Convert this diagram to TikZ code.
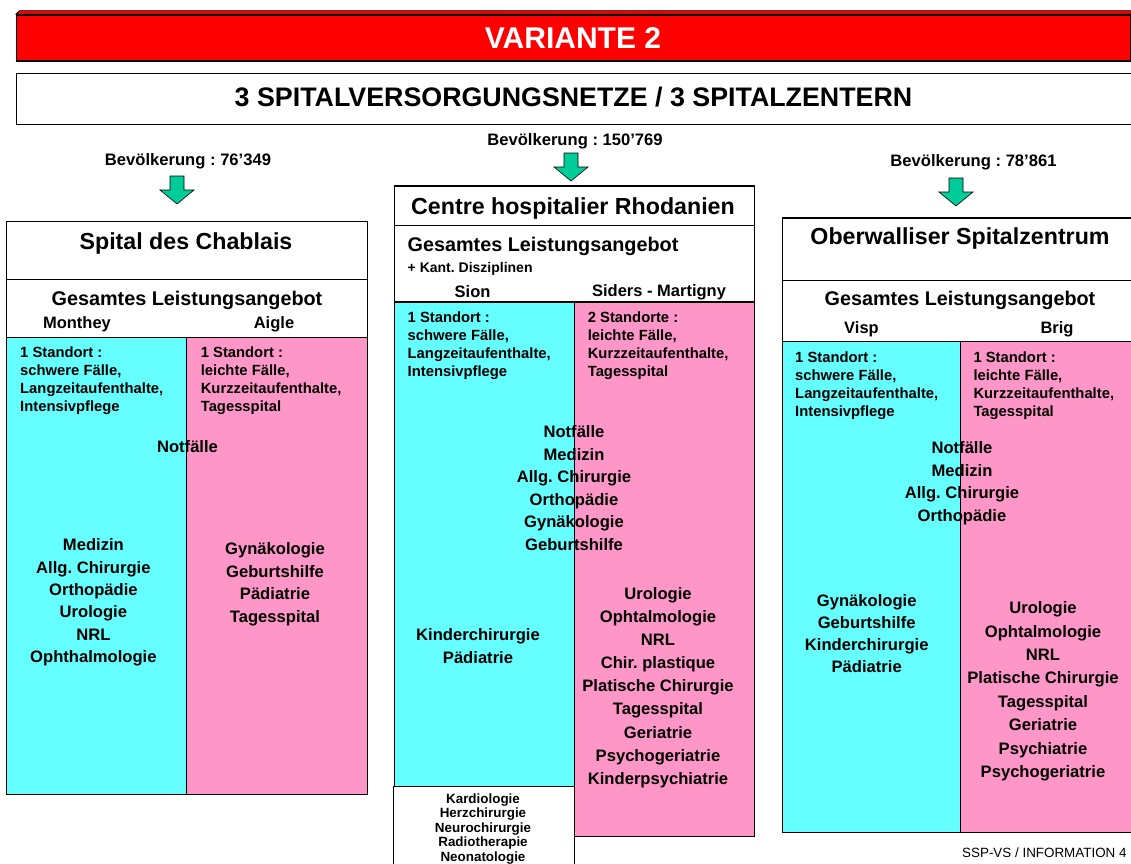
\documentclass[tikz,border=0pt]{standalone}
\usepackage{fontspec}
\setmainfont{Liberation Sans}
\frenchspacing
\definecolor{heavycyan}{RGB}{102,255,255}
\definecolor{lightpink}{RGB}{255,150,200}
\definecolor{arrowgreen}{RGB}{0,204,153}
\begin{document}
\begin{tikzpicture}[x=1pt, y=-1pt,
        frame/.style={draw=black, line width=1.2pt, inner sep=0pt, anchor=north west},
        pop/.style={font=\bfseries\fontsize{16.6}{20}\selectfont},
        head/.style={font=\bfseries\fontsize{23.2}{28}\selectfont},
        offer/.style={font=\bfseries\fontsize{19.8}{24}\selectfont},
        site/.style={font=\bfseries\fontsize{16.5}{20}\selectfont},
        sites/.style={align=left, anchor=west, inner sep=0pt, font=\bfseries\fontsize{14.8}{18}\selectfont},
        list/.style={align=center, inner sep=0pt, font=\bfseries\fontsize{16.6}{#1}\selectfont},
        list/.default=22.4,
        greenarrow/.style={fill=arrowgreen, draw=black, line width=0.6pt}]
                \path[use as bounding box] (0,0) rectangle (1131,863);
                \clip (0,0) rectangle (1131,863);
                \draw[fill=red, line width=0.8pt] (16,14.3) -- (19.5,10.7) -- (1134,10.7) -- (1130,14.3) -- cycle;
                \node[frame, fill=red, minimum width=1114, minimum height=46] (banner) at (16,14.3) {};
                \node[text=white, font=\bfseries\fontsize{30}{36}\selectfont] (variante) at (573,38.5) {VARIANTE 2};
                \node[frame, fill=white, minimum width=1130, minimum height=51] (subtitle) at (16,73) {};
                \node[font=\bfseries\fontsize{26.8}{32}\selectfont] (netze) at (573.5,97.5) {3 SPITALVERSORGUNGSNETZE / 3 SPITALZENTERN};
                \foreach \ax/\ay in {177/176, 571/153, 956/178}
                    \draw[greenarrow] (\ax,\ay) ++(-7,0) -- ++(14,0) -- ++(0,14) -- ++(10,0) -- ++(-17,14) -- ++(-17,-14) -- ++(10,0) -- cycle;
                \node[frame, fill=white, minimum width=361, minimum height=58] (chablais) at (6,221) {};
                \node[frame, fill=white, minimum width=361, minimum height=58] (chablaisOffer) at (6,279) {};
                \node[frame, fill=heavycyan, minimum width=180, minimum height=457] (monthey) at (6,337) {};
                \node[frame, fill=lightpink, minimum width=181, minimum height=457] (aigle) at (186,337) {};
                \node[frame, fill=white, minimum width=360, minimum height=39.4] (rhodanien) at (394,185.4) {};
                \node[frame, fill=white, minimum width=360, minimum height=76.6] (rhodanienOffer) at (394,224.8) {};
                \node[frame, fill=heavycyan, minimum width=180, minimum height=484.4] (sion) at (394,301.4) {};
                \node[frame, fill=lightpink, minimum width=180, minimum height=534.1] (siders) at (574,301.4) {};
                \node[frame, fill=white, minimum width=181, minimum height=100] (kantonal) at (393,785.8) {};
                \node[frame, fill=white, minimum width=360, minimum height=62.7] (oberwallis) at (782,217.3) {};
                \node[frame, fill=white, minimum width=360, minimum height=61] (oberwallisOffer) at (782,280) {};
                \node[frame, fill=heavycyan, minimum width=178, minimum height=491] (visp) at (782,341) {};
                \node[frame, fill=lightpink, minimum width=182, minimum height=491] (brig) at (960,341) {};
                \node[pop] (popChablais) at (188,161) {Bevölkerung : 76’349};
                \node[pop] (popRhodanien) at (575,141) {Bevölkerung : 150’769};
                \node[pop] (popOberwallis) at (973.5,162) {Bevölkerung : 78’861};
                \node[head] (chablaisName) at (186,243) {Spital des Chablais};
                \node[head] (rhodanienName) at (573,208) {Centre hospitalier Rhodanien};
                \node[head] (oberwallisName) at (960,238.3) {Oberwalliser Spitalzentrum};
                \node[offer] (chablaisAll) at (187,300) {Gesamtes Leistungsangebot};
                \node[offer, anchor=west, inner sep=0pt] (rhodanienAll) at (407.5,246.6) {Gesamtes Leistungsangebot};
                \node[anchor=west, inner sep=0pt, font=\bfseries\fontsize{14}{17}\selectfont] (kantPlus) at (407.5,269) {+ Kant. Disziplinen};
                \node[offer] (oberwallisAll) at (960,300) {Gesamtes Leistungsangebot};
                \node[site] (montheyName) at (77,324) {Monthey};
                \node[site] (aigleName) at (274,324) {Aigle};
                \node[site] (sionName) at (472.6,292) {Sion};
                \node[site] (sidersName) at (659,292) {Siders - Martigny};
                \node[site] (vispName) at (861.5,329) {Visp};
                \node[site] (brigName) at (1057,329) {Brig};
                \node[sites] (montheyRole) at (20,381) {1 Standort :\\schwere Fälle,\\Langzeitaufenthalte,\\Intensivpflege};
                \node[sites] (aigleRole) at (200.6,381) {1 Standort :\\leichte Fälle,\\Kurzzeitaufenthalte,\\Tagesspital};
                \node[sites] (sionRole) at (407.5,345.7) {1 Standort :\\schwere Fälle,\\Langzeitaufenthalte,\\Intensivpflege};
                \node[sites] (sidersRole) at (587.6,345.7) {2 Standorte :\\leichte Fälle,\\Kurzzeitaufenthalte,\\Tagesspital};
                \node[sites] (vispRole) at (795,385.2) {1 Standort :\\schwere Fälle,\\Langzeitaufenthalte,\\Intensivpflege};
                \node[sites] (brigRole) at (973.3,385.2) {1 Standort :\\leichte Fälle,\\Kurzzeitaufenthalte,\\Tagesspital};
                \node[list] (chablaisBoth) at (187.5,447) {Notfälle};
                \node[list=22.3] (montheyList) at (93.4,602.4) {Medizin\\Allg. Chirurgie\\Orthopädie\\Urologie\\NRL\\Ophthalmologie};
                \node[list=22.5] (aigleList) at (275,584.2) {Gynäkologie\\Geburtshilfe\\Pädiatrie\\Tagesspital};
                \node[list=22.5] (rhodanienBoth) at (574,488.2) {Notfälle\\Medizin\\Allg. Chirurgie\\Orthopädie\\Gynäkologie\\Geburtshilfe};
                \node[list] (sionList) at (478,646.2) {Kinderchirurgie\\Pädiatrie};
                \node[list=23.1] (sidersList) at (658,687.5) {Urologie\\Ophtalmologie\\NRL\\Chir. plastique\\Platische Chirurgie\\Tagesspital\\Geriatrie\\Psychogeriatrie\\Kinderpsychiatrie};
                \node[align=center, inner sep=0pt, font=\bfseries\fontsize{13.4}{14.4}\selectfont] (kantList) at (483,828.9) {Kardiologie\\Herzchirurgie\\Neurochirurgie\\Radiotherapie\\Neonatologie};
                \node[list=22.5] (oberwallisBoth) at (962,483) {Notfälle\\Medizin\\Allg. Chirurgie\\Orthopädie};
                \node[list=22.1] (vispList) at (866.7,633.5) {Gynäkologie\\Geburtshilfe\\Kinderchirurgie\\Pädiatrie};
                \node[list=23.4] (brigList) at (1043,691.3) {Urologie\\Ophtalmologie\\NRL\\Platische Chirurgie\\Tagesspital\\Geriatrie\\Psychiatrie\\Psychogeriatrie};
                \node[anchor=west, inner sep=0pt, font=\fontsize{13.4}{16}\selectfont] (info) at (962,852.3) {SSP-VS / INFORMATION 4};
            \end{tikzpicture}
\end{document}
